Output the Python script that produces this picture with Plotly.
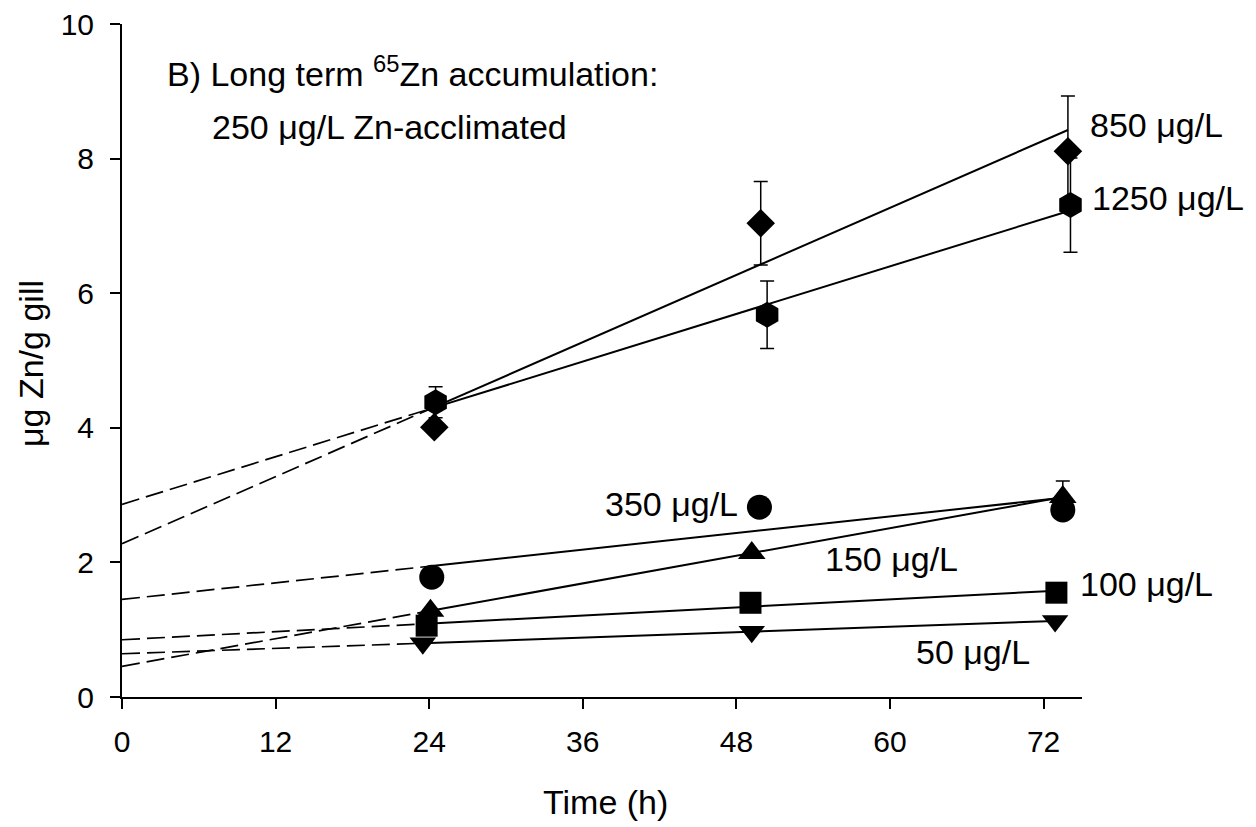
import numpy as np
import plotly.graph_objects as go

# ---------------- data ----------------
series_names = ["850 μg/L", "1250 μg/L", "350 μg/L", "150 μg/L", "100 μg/L", "50 μg/L"]

t_850 = [24.4, 49.9, 73.9]
y_850 = [4.01, 7.04, 8.11]
e_850 = [0.0, 0.62, 0.82]

t_1250 = [24.5, 50.4, 74.1]
y_1250 = [4.38, 5.68, 7.31]
e_1250 = [0.23, 0.50, 0.70]

t_350 = [24.2, 49.8, 73.5]
y_350 = [1.78, 2.82, 2.78]
e_350 = [0.0, 0.0, 0.0]

t_150 = [24.1, 49.2, 73.5]
y_150 = [1.28, 2.14, 2.97]
e_150 = [0.0, 0.0, 0.24]

t_100 = [23.8, 49.1, 73.0]
y_100 = [1.06, 1.40, 1.55]
e_100 = [0.0, 0.0, 0.0]

t_50 = [23.5, 49.2, 72.9]
y_50 = [0.80, 0.97, 1.13]
e_50 = [0.0, 0.0, 0.0]

x_ticks = [0, 12, 24, 36, 48, 60, 72]
y_ticks = [0, 2, 4, 6, 8, 10]

# ---------------- styling ----------------
FONT = "Liberation Sans, Arial, sans-serif"
OFF = 8                      # browser body margin
W, H = 1256 - OFF, 827 - OFF
L, T = 122 - OFF, 24 - OFF
PW, PH = 960, 673
R = W - L - PW
B = H - T - PH

def xp(px):  # screenshot pixel -> paper
    return (px - OFF - L) / PW

def yp(py):
    return (T + PH - (py - OFF)) / PH

series = [
    (series_names[0], t_850, y_850, e_850, "diamond", 22),
    (series_names[1], t_1250, y_1250, e_1250, "hexagon", 26),
    (series_names[2], t_350, y_350, e_350, "circle", 25),
    (series_names[3], t_150, y_150, e_150, "triangle-up", 24),
    (series_names[4], t_100, y_100, e_100, "square", 22),
    (series_names[5], t_50, y_50, e_50, "triangle-down", 23),
]

fig = go.Figure()

# regression lines: dashed extrapolation to t=0, solid over measured range
for name, t, y, e, sym, sz in series:
    slope, icpt = np.polyfit(t, y, 1)
    t0, t1 = min(t), max(t)
    fig.add_trace(go.Scatter(
        x=[0, t0], y=[icpt, icpt + slope * t0], mode="lines",
        line=dict(color="black", width=1.7, dash="18px,7px"),
        showlegend=False, hoverinfo="skip"))
    fig.add_trace(go.Scatter(
        x=[t0, t1], y=[icpt + slope * t0, icpt + slope * t1], mode="lines",
        line=dict(color="black", width=2),
        showlegend=False, hoverinfo="skip"))

for name, t, y, e, sym, sz in series:
    fig.add_trace(go.Scatter(
        x=t, y=y, mode="markers", name=name,
        marker=dict(symbol=sym, size=sz, color="black", line=dict(width=0)),
        error_y=dict(type="data", array=e, visible=True, color="black",
                     thickness=1.5, width=7),
        showlegend=False, cliponaxis=False))

ann_font = dict(family=FONT, size=34, color="black")
annotations = [
    dict(text="B) Long term <sup>65</sup>Zn accumulation:", x=xp(165), y=yp(72),
         xanchor="left", yanchor="middle"),
    dict(text="250 μg/L Zn-acclimated", x=xp(210), y=yp(127),
         xanchor="left", yanchor="middle"),
    dict(text=series_names[0], x=xp(1088), y=yp(125), xanchor="left", yanchor="middle"),
    dict(text=series_names[1], x=xp(1090), y=yp(198), xanchor="left", yanchor="middle"),
    dict(text=series_names[2], x=xp(740), y=yp(504), xanchor="right", yanchor="middle"),
    dict(text=series_names[3], x=xp(823), y=yp(559), xanchor="left", yanchor="middle"),
    dict(text=series_names[4], x=xp(1078), y=yp(584), xanchor="left", yanchor="middle"),
    dict(text=series_names[5], x=xp(1032), y=yp(652), xanchor="right", yanchor="middle"),
    dict(text="Time (h)", x=xp(605), y=yp(802), xanchor="center", yanchor="middle"),
    dict(text="μg Zn/g gill", x=xp(31), y=yp(364), xanchor="center", yanchor="middle",
         textangle=-90),
]
for a in annotations:
    a.update(xref="paper", yref="paper", showarrow=False, font=ann_font)

axis_common = dict(
    showgrid=False, zeroline=False, showline=True, linecolor="black", linewidth=2,
    ticks="outside", ticklen=10, tickwidth=1.5, tickcolor="black",
    tickfont=dict(family=FONT, size=30, color="black"),
    ticklabeloverflow="allow", automargin=False,
)

fig.update_layout(
    width=W, height=H,
    margin=dict(l=L, r=R, t=T, b=B, autoexpand=False),
    paper_bgcolor="white", plot_bgcolor="white",
    showlegend=False,
    annotations=annotations,
    xaxis=dict(range=[0, 75], tickvals=x_ticks, ticklabelstandoff=7, **axis_common),
    yaxis=dict(range=[0, 10], tickvals=y_ticks, ticklabelstandoff=10, **axis_common),
)

fig.write_html("out.html")
